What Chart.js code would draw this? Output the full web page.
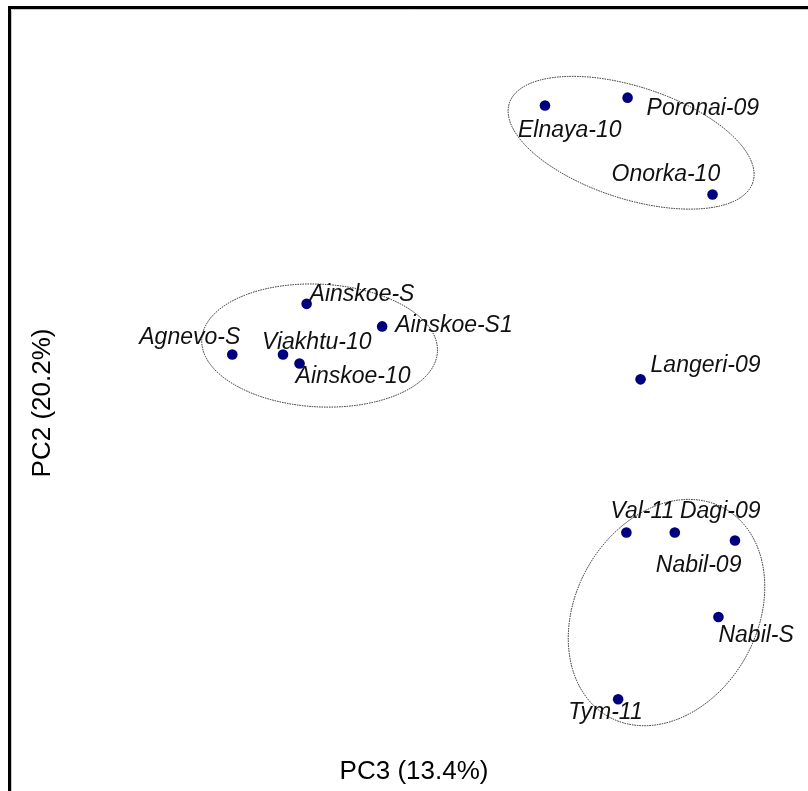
<!DOCTYPE html>
<html>
<head>
<meta charset="utf-8">
<script src="https://cdn.jsdelivr.net/npm/chart.js@4"></script>
<style>
  body { margin: 0; background: #fff; }
  #wrap { width: 808px; height: 791px; position: relative; }
</style>
</head>
<body>
<div id="wrap"><canvas id="pcaChart"></canvas></div>
<script>
// sample names and PCA scores (PC3 on x, PC2 on y)
const samples = ["Elnaya-10", "Poronai-09", "Onorka-10", "Ainskoe-S", "Ainskoe-S1", "Agnevo-S",
    "Viakhtu-10", "Ainskoe-10", "Langeri-09", "Val-11", "Nabil-09", "Dagi-09", "Nabil-S", "Tym-11"];
const pc3 = [1.11, 1.81, 2.53, -0.91, -0.27, -1.54, -1.11, -0.97, 1.92, 1.80, 2.21, 2.72, 2.58, 1.73];
const pc2 = [2.64, 2.71, 1.85, 0.88, 0.68, 0.43, 0.43, 0.35, 0.21, -1.15, -1.15, -1.22, -1.90, -2.63];

// group ellipses: centre (pc3, pc2), semi axes in score units, tilt in degrees
const groupCx = [1.84, -0.80, 2.14];
const groupCy = [2.31, 0.51, -1.86];
const groupRx = [1.085, 1.00, 1.01];
const groupRy = [0.475, 0.52, 0.77];
const groupTilt = [18, 3, -61];

const axisX = "PC3 (13.4%)";
const axisY = "PC2 (20.2%)";

// where each label sits relative to its point (px)
const labelOffsets = [[-27, 25], [19, 11], [-101, -20], [3, -9], [13, -1], [-93, -17],
    [-21, -12], [-4, 13], [10, -14], [-16, -21], [-19, 33], [-55, -29], [0, 19], [-50, 13]];

const frame = {
    id: "frame",
    afterDraw(chart) {
        const ctx = chart.ctx;
        ctx.save();
        ctx.strokeStyle = "#000";
        ctx.lineWidth = 3;
        ctx.beginPath();
        ctx.moveTo(9.5, 791);
        ctx.lineTo(9.5, 7.5);
        ctx.lineTo(808, 7.5);
        ctx.stroke();
        ctx.strokeStyle = "#c8c8c8";
        ctx.lineWidth = 1;
        ctx.beginPath();
        ctx.moveTo(11.5, 791);
        ctx.lineTo(11.5, 9.5);
        ctx.lineTo(808, 9.5);
        ctx.stroke();
        ctx.restore();
    }
};

const groups = {
    id: "groups",
    beforeDatasetsDraw(chart) {
        const ctx = chart.ctx;
        const x = chart.scales.x, y = chart.scales.y;
        const unit = Math.abs(x.getPixelForValue(1) - x.getPixelForValue(0));
        ctx.save();
        ctx.strokeStyle = "#222";
        ctx.lineWidth = 1;
        ctx.setLineDash([1.5, 1]);
        for (let i = 0; i < groupCx.length; i++) {
            ctx.beginPath();
            ctx.ellipse(x.getPixelForValue(groupCx[i]), y.getPixelForValue(groupCy[i]),
                groupRx[i] * unit, groupRy[i] * unit, groupTilt[i] * Math.PI / 180, 0, Math.PI * 2);
            ctx.stroke();
        }
        ctx.restore();
    }
};

const labels = {
    id: "labels",
    afterDatasetsDraw(chart) {
        const ctx = chart.ctx;
        const pts = chart.getDatasetMeta(0).data;
        ctx.save();
        ctx.font = "italic 23px 'Liberation Sans', Arial, sans-serif";
        ctx.fillStyle = "#111";
        ctx.textBaseline = "middle";
        ctx.textAlign = "left";
        pts.forEach((p, i) => {
            ctx.fillText(samples[i], p.x + labelOffsets[i][0], p.y + labelOffsets[i][1]);
        });
        ctx.restore();
    }
};

function main() {
    const ctx = document.getElementById("pcaChart").getContext("2d");
    const titleFont = { family: "'Liberation Sans', Arial, sans-serif", size: 26 };
    new Chart(ctx, {
        type: "scatter",
        data: {
            datasets: [{
                data: pc3.map((v, i) => ({ x: v, y: pc2[i] })),
                backgroundColor: "#00007f",
                borderWidth: 0,
                pointRadius: 5.3,
                pointHoverRadius: 5.3
            }]
        },
        options: {
            responsive: true,
            maintainAspectRatio: false,
            animation: false,
            layout: { padding: { left: 0, top: 65, right: 40, bottom: 0 } },
            plugins: { legend: { display: false }, tooltip: { enabled: false } },
            scales: {
                x: {
                    min: -3, max: 3,
                    grid: { display: false },
                    border: { display: false },
                    ticks: { display: false },
                    title: { display: true, text: axisX, color: "#000", font: titleFont, padding: { top: 0, bottom: 4 } },
                    afterFit(scale) { scale.height = 50; }
                },
                y: {
                    min: -3, max: 3,
                    grid: { display: false },
                    border: { display: false },
                    ticks: { display: false },
                    title: { display: true, text: axisY, color: "#000", font: titleFont, padding: { top: 27, bottom: 0 } },
                    afterFit(scale) { scale.width = 60; }
                }
            }
        },
        plugins: [frame, groups, labels]
    });
}

document.addEventListener("DOMContentLoaded", () => {
    main();
});
</script>
</body>
</html>
